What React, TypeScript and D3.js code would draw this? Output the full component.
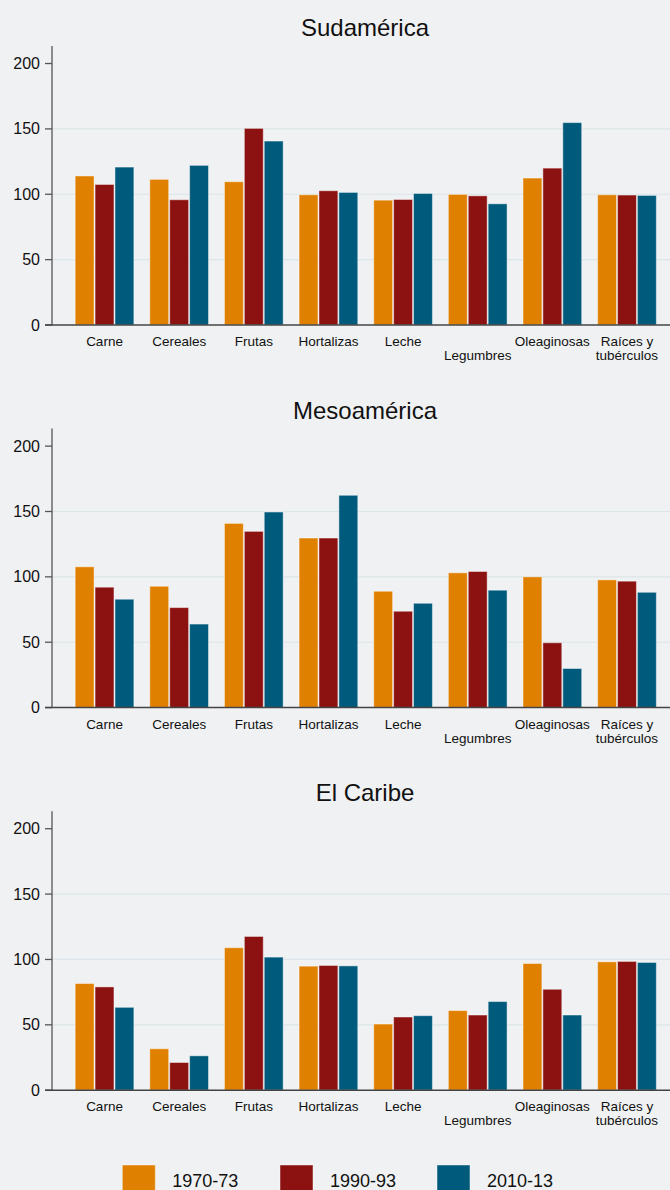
import React from "react";
import * as d3 from "d3";

const categories = ["Carne", "Cereales", "Frutas", "Hortalizas", "Leche", "Legumbres", "Oleaginosas", "Raíces y tubérculos"];
const categoryLabelLines: string[][] = [["Carne"], ["Cereales"], ["Frutas"], ["Hortalizas"], ["Leche"], ["", "Legumbres"], ["Oleaginosas"], ["Raíces y", "tubérculos"]];
const seriesNames = ["1970-73", "1990-93", "2010-13"];
const seriesColors = ["#e08000", "#8c1111", "#005a7b"];
const regions = ["Sudamérica", "Mesoamérica", "El Caribe"];

const sudamerica = [
  [114, 107.5, 120.8],
  [111.4, 95.8, 122.1],
  [109.6, 150.4, 140.7],
  [99.6, 102.7, 101.4],
  [95.5, 96, 100.6],
  [99.9, 98.8, 92.7],
  [112.4, 120, 154.8],
  [99.6, 99.4, 99.1],
];
const mesoamerica = [
  [107.7, 92.1, 82.9],
  [92.8, 76.5, 63.9],
  [140.9, 134.8, 149.6],
  [129.7, 129.7, 162.4],
  [89, 73.7, 79.8],
  [103.1, 104.1, 89.8],
  [100, 49.6, 29.9],
  [97.7, 96.7, 88.2],
];
const caribe = [
  [81.6, 79, 63.4],
  [31.7, 21.2, 26.3],
  [109, 117.6, 101.8],
  [94.9, 95.4, 95.1],
  [50.6, 56, 57],
  [60.9, 57.5, 67.8],
  [96.9, 77.2, 57.5],
  [98.2, 98.5, 97.7],
];
const regionData = [sudamerica, mesoamerica, caribe];
const yTicks = [0, 50, 100, 150, 200];
const gridTicks = [50, 100, 150];

const W = 670;
const H = 1190;
const AXIS_X = 52;
const PANEL_STEP = 382.6;
const FONT = "'Liberation Sans', Arial, Helvetica, sans-serif";

export default function App() {
  const x0 = d3.scaleBand<string>().domain(categories).range([67.2, 664.3]).paddingInner(0.2).paddingOuter(0.1);
  const x1 = d3.scaleBand<string>().domain(seriesNames).range([0, x0.bandwidth()]).padding(0);

  return (
    <svg width={W} height={H} style={{ position: "absolute", left: 0, top: 0, display: "block" }} fontFamily={FONT}>
      <rect x={0} y={0} width={W} height={H} fill="#f0f1f3" />
      {regionData.map((data, ri) => {
        const top = 46 + ri * PANEL_STEP;
        const zero = 325 + ri * PANEL_STEP;
        const y = d3.scaleLinear().domain([0, 213.4]).range([zero, top]);
        return (
          <g key={ri}>
            <text x={365} y={36 + ri * PANEL_STEP} textAnchor="middle" fontSize={24} fill="#111">
              {regions[ri]}
            </text>
            {gridTicks.map((t) => (
              <line key={t} x1={AXIS_X} x2={W} y1={y(t)} y2={y(t)} stroke="#dce5e9" strokeWidth={1.2} />
            ))}
            {data.map((vals, ci) => (
              <g key={ci} transform={`translate(${x0(categories[ci])},0)`}>
                {vals.map((v, si) => (
                  <rect
                    key={si}
                    x={(x1(seriesNames[si]) as number) + 0.5}
                    y={y(v)}
                    width={x1.bandwidth() - 1}
                    height={zero - y(v)}
                    fill={seriesColors[si]}
                    stroke="rgba(255,255,255,0.45)"
                    strokeWidth={1}
                  />
                ))}
              </g>
            ))}
            {/* y axis */}
            <line x1={AXIS_X} x2={AXIS_X} y1={top} y2={zero} stroke="#555" strokeWidth={1.3} />
            {yTicks.map((t) => (
              <g key={t}>
                <line x1={AXIS_X - 7} x2={AXIS_X} y1={y(t)} y2={y(t)} stroke="#555" strokeWidth={1.3} />
                <text x={40} y={y(t)} dy="0.35em" textAnchor="end" fontSize={16} fill="#111">
                  {t}
                </text>
              </g>
            ))}
            {/* x axis */}
            <line x1={AXIS_X - 7} x2={W} y1={zero} y2={zero} stroke="#444" strokeWidth={1.5} />
            {categories.map((c, ci) => {
              const cx = (x0(c) as number) + x0.bandwidth() / 2;
              return categoryLabelLines[ci].map((ln, li) => (
                <text key={c + li} x={cx} y={zero + 21 + li * 14} textAnchor="middle" fontSize={13.5} fill="#111">
                  {ln}
                </text>
              ));
            })}
          </g>
        );
      })}
      {/* legend */}
      {seriesNames.map((s, si) => {
        const lx = [122.3, 280, 437][si];
        return (
          <g key={s}>
            <rect x={lx} y={1165} width={33} height={33} fill={seriesColors[si]} stroke="rgba(255,255,255,0.45)" strokeWidth={1} />
            <text x={lx + 50} y={1187} fontSize={18} fill="#111">
              {s}
            </text>
          </g>
        );
      })}
    </svg>
  );
}
